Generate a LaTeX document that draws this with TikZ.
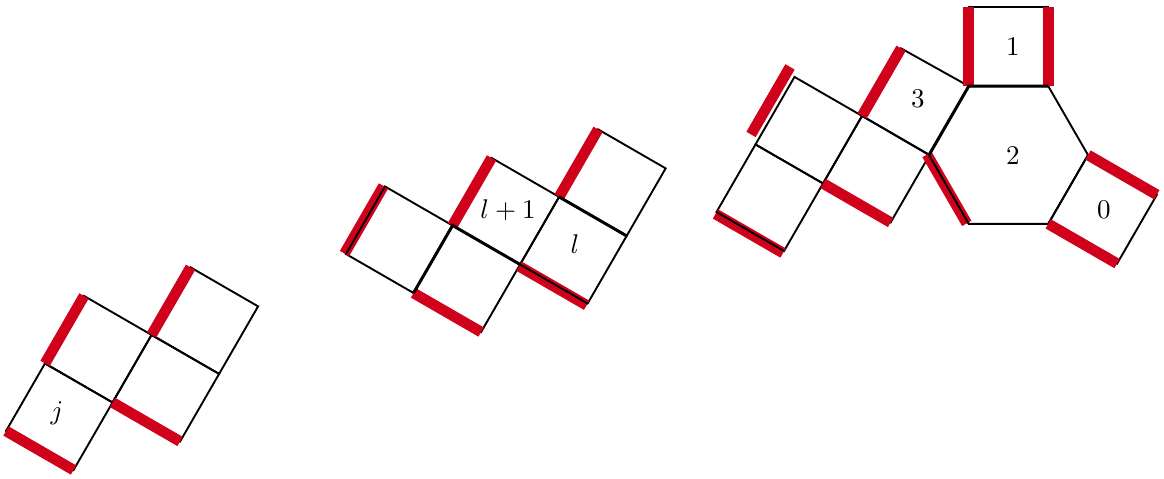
\documentclass[tikz,border=0pt]{standalone}
\usetikzlibrary{calc}
\definecolor{redband}{RGB}{208,2,27}
\begin{document}
\begin{tikzpicture}[x=0.37pt,y=-0.37pt,
  edge/.style={black,line width=0.7pt,line join=miter},
  dbl/.style={black,line width=1.1pt},
  band/.style={redband,line width=3.95pt}]
\useasboundingbox (0,0) rectangle (1164,478);
\newcommand\sqr[1]{\draw[edge] (#1) -- ++(39,-67.55) -- ++(67.55,39) -- ++(-39,67.55) -- cycle;}
% group 1
\coordinate (A) at (6,431);
\coordinate (B) at (45,363.45);
\coordinate (C) at (112.55,402.45);
\coordinate (D) at (151.55,334.9);
% group 2
\coordinate (E) at (346,254);
\coordinate (F) at (413.55,293);
\coordinate (G) at (452.55,225.45);
\coordinate (H) at (520.1,264.45);
\coordinate (I) at (559.1,196.9);
% group 3
\coordinate (K) at (716.5,212);
\coordinate (M) at (755.5,144.45);
\coordinate (N) at (823.05,183.45);
\coordinate (S) at (862.05,115.9);
\coordinate (W) at (929,155);
\coordinate (NW) at (968.75,86.15);
\coordinate (NE) at (1048.25,86.15);
\coordinate (Ea) at (1088,155);
\coordinate (SE) at (1048.25,223.85);
\coordinate (SW) at (968.75,223.85);
% black squares
\sqr{A}\sqr{B}\sqr{C}\sqr{D}
\sqr{E}\sqr{F}\sqr{G}\sqr{H}\sqr{I}
\sqr{K}\sqr{M}\sqr{N}
\draw[edge] (S) -- ++(39,-67.55) -- (NW) -- (W) -- cycle;
\draw[edge] (W) -- (NW) -- (NE) -- (Ea) -- (SE) -- (SW) -- cycle;
\draw[edge] (NW) -- ++(0,-79.5) -- ++(79.5,0) -- (NE) -- cycle;
\draw[edge] (Ea) -- ++(68.85,39.75) -- ++(-39.75,68.85) -- (SE) -- cycle;
% red bands
\draw[band] (A) -- ++(67.55,39);
\draw[band] (B) -- ++(39,-67.55);
\draw[band] (C) -- ++(67.55,39);
\draw[band] (D) -- ++(39,-67.55);
\draw[band] ($(E)+(-1.5,-0.5)$) -- ++(39,-67.55);
\draw[band] (F) -- ++(67.55,39);
\draw[band] (G) -- ++(39,-67.55);
\draw[band] ($(H)+(-1,1.8)$) -- ++(67.55,39);
\draw[band] (I) -- ++(39,-67.55);
\draw[band] ($(K)+(-1,2)$) -- ++(67.55,39);
\draw[band] ($(M)+(-4.5,-10)$) -- ++(39,-67.55);
\draw[band] (N) -- ++(67.55,39);
\draw[band] (S) -- ++(39,-67.55);
\draw[band] ($(W)+(-2,-0.5)$) -- ($(SW)+(-2,-0.5)$);
\draw[band] (NW) -- ++(0,-79.5);
\draw[band] (NE) -- ++(0,-79.5);
\draw[band] (Ea) -- ++(68.85,39.75);
\draw[band] (SE) -- ++(68.85,39.75);
% black overlays
\draw[edge] (E) -- ++(39,-67.55);
\draw[edge] (H) -- ++(67.55,39);
\draw[edge] (K) -- ++(67.55,39);
\draw[edge] (W) -- (SW);
\draw[dbl] (F) -- (G) -- ++(67.55,39);
\draw[dbl] (I) -- ++(67.55,39);
\draw[dbl] (W) -- (NW) -- (NE);
% labels
\node (lj) at (57,413) {$j$};
\node (llp) at (508,210) {$l+1$};
\node (ll) at (575,244) {$l$};
\node (l3) at (918,99) {$3$};
\node (l1) at (1013,47) {$1$};
\node (l2) at (1013,156) {$2$};
\node (l0) at (1104,210) {$0$};
\end{tikzpicture}
\end{document}
